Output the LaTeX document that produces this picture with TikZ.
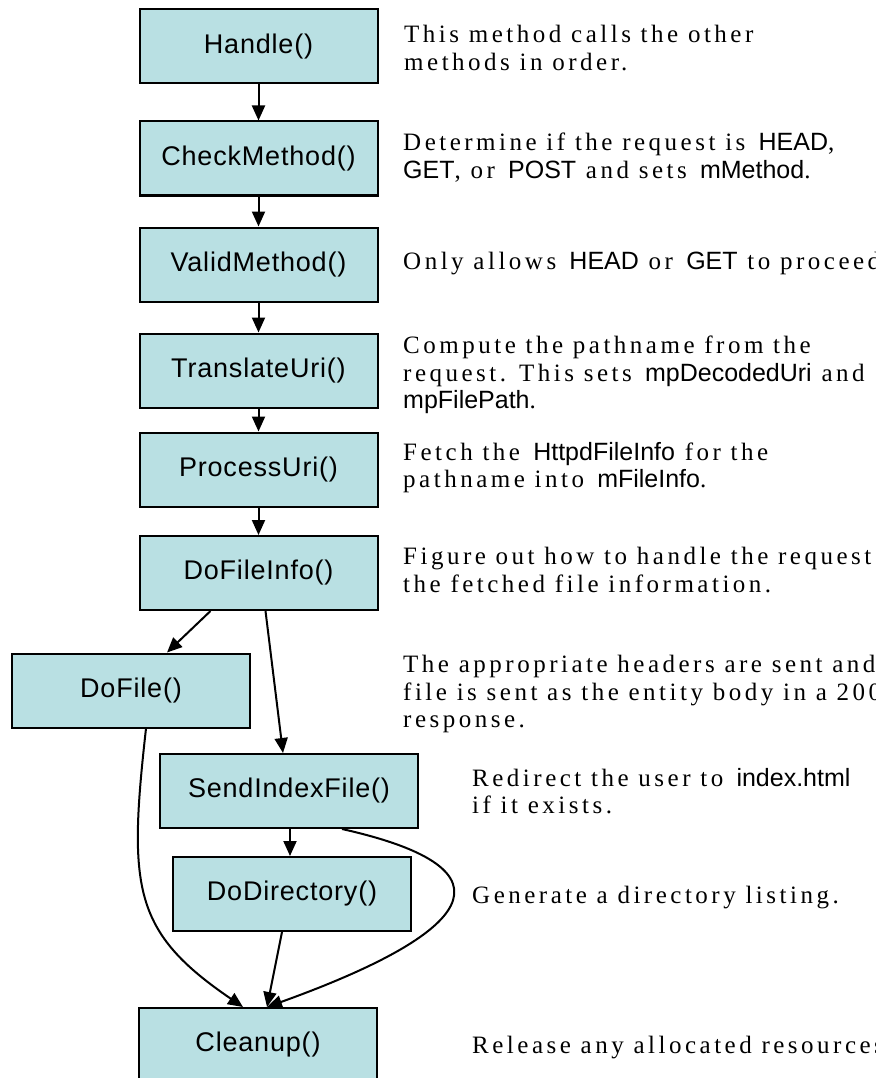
\documentclass[tikz,border=0pt]{standalone}
\usepackage{fontspec}
\setmainfont{Liberation Serif}[LetterSpace=14]
\setsansfont{Liberation Sans}
\newfontfamily\boxfont{Liberation Sans}[LetterSpace=3]
\usetikzlibrary{arrows.meta,positioning}
\definecolor{methodfill}{RGB}{185,224,227}
\tikzset{
    method/.style={rectangle,draw,line width=2pt,fill=methodfill,
        minimum width=238pt,minimum height=74pt,inner sep=0pt,
        font=\boxfont\fontsize{27}{30}\selectfont},
    note/.style={anchor=north west,inner sep=0pt,align=left,
        font=\fontsize{25}{27.5}\selectfont},
    call/.style={->,line width=2pt},
    callin/.style={<-,line width=2pt},
    >={Triangle[length=15pt,width=13pt]}
}
\newcommand{\ident}[1]{\textsf{#1}}

\begin{document}
\begin{tikzpicture}[x=1pt,y=-1pt]
    \useasboundingbox (0,0) rectangle (875,1078);

    % main call chain
    \node[method] (handle) at (258.5,46.5) {Handle()};
    \node[method] (checkmethod) [below=36pt of handle] {CheckMethod()}
        edge[callin] (handle);
    \node[method] (validmethod) [below=30pt of checkmethod] {ValidMethod()}
        edge[callin] (checkmethod);
    \node[method] (translateuri) [below=30pt of validmethod] {TranslateUri()}
        edge[callin] (validmethod);
    \node[method] (processuri) [below=23pt of translateuri] {ProcessUri()}
        edge[callin] (translateuri);
    \node[method] (dofileinfo) [below=27.5pt of processuri] {DoFileInfo()}
        edge[callin] (processuri);

    % branches out of DoFileInfo()
    \node[method] (dofile) [below=41.5pt of dofileinfo, xshift=-127.5pt] {DoFile()};
    \node[method, minimum width=258pt] (sendindexfile) [below=24.5pt of dofile, xshift=158pt] {SendIndexFile()};
    \node[method] (dodirectory) [below=27pt of sendindexfile, xshift=3pt] {DoDirectory()};
    \node[method] (cleanup) [below=75pt of dodirectory, xshift=-34pt] {Cleanup()};

    \draw[call] ([xshift=-48pt]dofileinfo.south) -- ([xshift=36pt]dofile.north);
    \draw[call] ([xshift=7pt]dofileinfo.south) -- ([xshift=-6pt]sendindexfile.north);
    \draw[call] ([xshift=1pt]sendindexfile.south) -- ([xshift=-2pt]dodirectory.north);
    \draw[call] ([xshift=-10pt]dodirectory.south) -- ([xshift=9pt]cleanup.north);
    \draw[call] ([xshift=15pt]dofile.south)
        .. controls +(-18,160) and +(-110,-75) .. ([xshift=-15pt]cleanup.north);
    \draw[call] ([xshift=53pt]sendindexfile.south)
        .. controls +(183,41) and +(203,-73) .. ([xshift=9pt]cleanup.north);

    % what each method does
    \node[note] (handlenote) at (404,25) {This method calls the other\\methods in order.};
    \node[note] (checknote) at (403,133) {Determine if the request is \ident{HEAD},\\\ident{GET}, or \ident{POST} and sets \ident{mMethod}.};
    \node[note] (validnote) at (403,252) {Only allows \ident{HEAD} or \ident{GET} to proceed.};
    \node[note] (translatenote) at (403,336) {Compute the pathname from the\\request. This sets \ident{mpDecodedUri} and\\\ident{mpFilePath}.};
    \node[note] (processnote) at (403,442) {Fetch the \ident{HttpdFileInfo} for the\\pathname into \ident{mFileInfo}.};
    \node[note] (fileinfonote) at (403,547) {Figure out how to handle the request\\the fetched file information.};
    \node[note] (dofilenote) at (403,655) {The appropriate headers are sent and\\file is sent as the entity body in a 200\\response.};
    \node[note] (indexnote) at (472,768) {Redirect the user to \ident{index.html}\\if it exists.};
    \node[note] (directorynote) at (472,886) {Generate a directory listing.};
    \node[note] (cleanupnote) at (472,1036) {Release any allocated resources.};
\end{tikzpicture}
\end{document}
